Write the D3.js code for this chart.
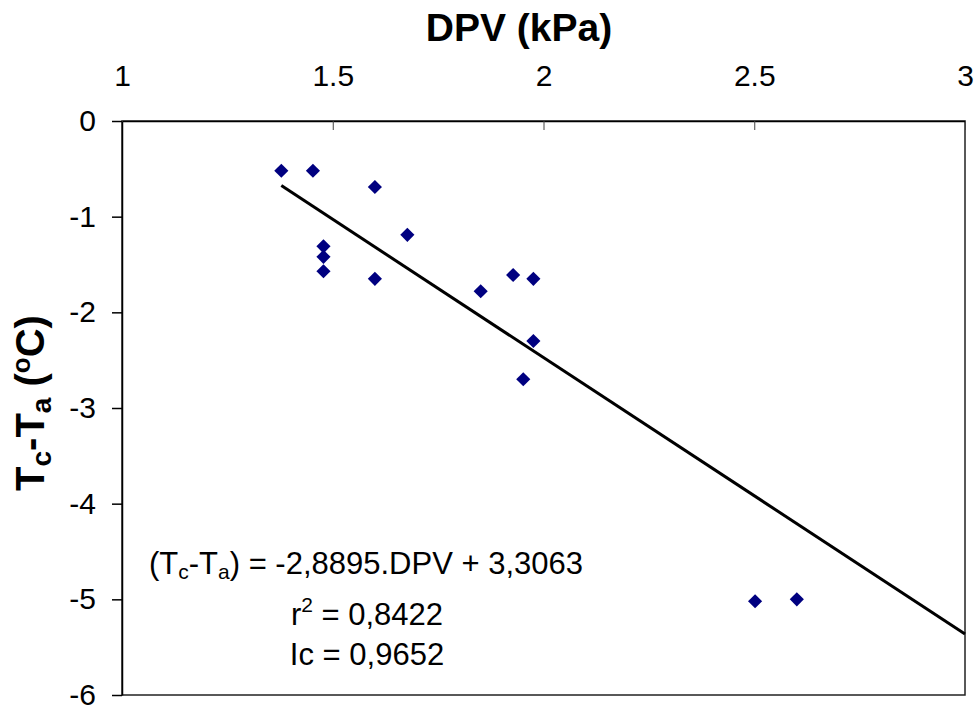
<!DOCTYPE html>
<html>
<head>
<meta charset="utf-8">
<script src="https://cdn.jsdelivr.net/npm/d3@7"></script>
<style>
  body { margin: 0; background: #fff; }
  svg text { font-family: "Liberation Sans", Arial, sans-serif; fill: #000; }
</style>
</head>
<body>
<svg id="chart" width="978" height="709"></svg>
<script>
// DPV (kPa) vs Tc-Ta (oC)
var dpv  = [1.378, 1.453, 1.600, 1.478, 1.478, 1.478, 1.600, 1.677, 1.851, 1.928, 1.976, 1.976, 1.952, 2.502, 2.601];
var tcta = [-0.52, -0.52, -0.69, -1.31, -1.42, -1.57, -1.65, -1.19, -1.78, -1.61, -1.65, -2.30, -2.70, -5.02, -5.00];
var xTicks = [1, 1.5, 2, 2.5, 3];
var yTicks = [0, -1, -2, -3, -4, -5, -6];
var slope = -2.8895, intercept = 3.3063;

var svg = d3.select("#chart");

var x = d3.scaleLinear().domain([1, 3]).range([122, 965]);
var y = d3.scaleLinear().domain([-6, 0]).range([695, 121]);

// plot box
svg.append("rect")
    .attr("x", x(1)).attr("y", y(0))
    .attr("width", x(3) - x(1)).attr("height", y(-6) - y(0))
    .style("fill", "none").style("stroke", "#222").style("stroke-width", 1.5);

// top axis, ticks pointing inside
var xAxis = d3.axisTop(x).tickValues(xTicks).tickSizeInner(-9).tickSizeOuter(0)
    .tickPadding(35).tickFormat(d3.format("~g"));
var gx = svg.append("g").attr("transform", "translate(0," + y(0) + ")").call(xAxis);
gx.select(".domain").style("stroke", "#000").style("stroke-width", 1.5);
gx.selectAll(".tick line").style("stroke", "#444").style("stroke-width", 1);
gx.selectAll(".tick text").style("font-size", "30px").style("font-family", "Liberation Sans, Arial, sans-serif");

// left axis
var yAxis = d3.axisLeft(y).tickValues(yTicks).tickSizeInner(10).tickSizeOuter(0)
    .tickPadding(16).tickFormat(d3.format("d"));
var gy = svg.append("g").attr("transform", "translate(" + x(1) + ",0)").call(yAxis);
gy.select(".domain").style("stroke", "#000").style("stroke-width", 1.5);
gy.selectAll(".tick line").style("stroke", "#000").style("stroke-width", 1.5);
gy.selectAll(".tick text").style("font-size", "30px").style("font-family", "Liberation Sans, Arial, sans-serif")
    .text(function(d){ return d === 0 ? "0" : "-" + Math.abs(d); });

// regression line
var x0 = d3.min(dpv);
svg.append("line")
    .attr("x1", x(x0)).attr("y1", y(slope * x0 + intercept))
    .attr("x2", x(3)).attr("y2", y(slope * 3 + intercept))
    .style("stroke", "#000").style("stroke-width", 3);

// points
var diamond = d3.symbol().type(d3.symbolSquare).size(100);
svg.selectAll(".pt").data(dpv).enter().append("path")
    .attr("class", "pt")
    .attr("d", diamond)
    .attr("transform", function(d, i){ return "translate(" + x(d) + "," + y(tcta[i]) + ") rotate(45)"; })
    .style("fill", "#000080");

// axis titles
svg.append("text")
    .attr("x", 519).attr("y", 41)
    .attr("text-anchor", "middle")
    .style("font-size", "39px").style("font-weight", "bold")
    .text("DPV (kPa)");

var yt = svg.append("text")
    .attr("transform", "translate(44,403) rotate(-90)")
    .attr("text-anchor", "middle")
    .style("font-size", "40px").style("font-weight", "bold");
yt.append("tspan").text("T");
yt.append("tspan").attr("dy", 7).style("font-size", "28px").text("c");
yt.append("tspan").attr("dy", -7).text("-T");
yt.append("tspan").attr("dy", 7).style("font-size", "28px").text("a");
yt.append("tspan").attr("dy", -7).text(" (");
yt.append("tspan").attr("dy", -14).style("font-size", "26px").text("o");
yt.append("tspan").attr("dy", 14).text("C)");

// equation annotation
var eq = svg.append("text")
    .attr("x", 366).attr("y", 574)
    .attr("text-anchor", "middle")
    .style("font-size", "31px");
eq.append("tspan").text("(T");
eq.append("tspan").attr("dy", 5).style("font-size", "21px").text("c");
eq.append("tspan").attr("dy", -5).text("-T");
eq.append("tspan").attr("dy", 5).style("font-size", "21px").text("a");
eq.append("tspan").attr("dy", -5).text(") = -2,8895.DPV + 3,3063");

var r2 = svg.append("text")
    .attr("x", 367).attr("y", 625)
    .attr("text-anchor", "middle")
    .style("font-size", "31px");
r2.append("tspan").text("r");
r2.append("tspan").attr("dy", -13).style("font-size", "21px").text("2");
r2.append("tspan").attr("dy", 13).text(" = 0,8422");

svg.append("text")
    .attr("x", 367).attr("y", 665)
    .attr("text-anchor", "middle")
    .style("font-size", "31px")
    .text("Ic = 0,9652");
</script>
</body>
</html>
